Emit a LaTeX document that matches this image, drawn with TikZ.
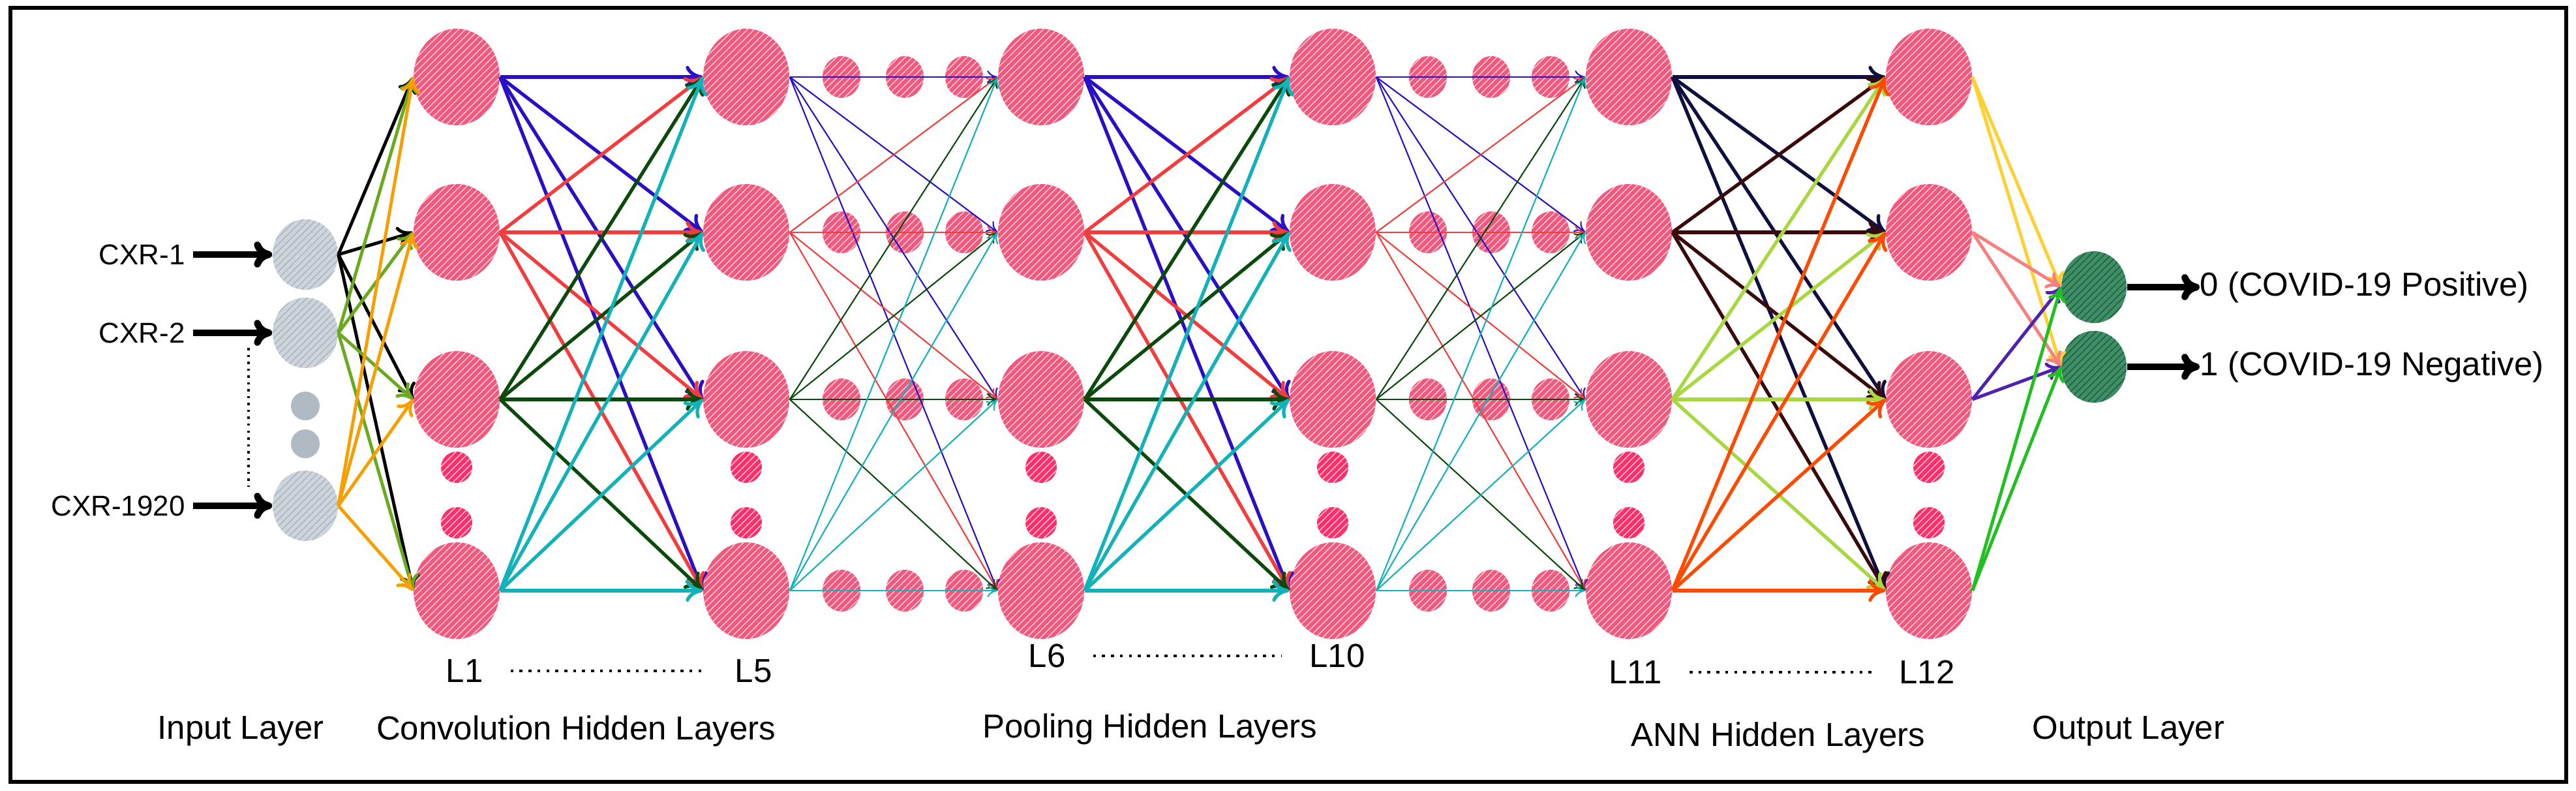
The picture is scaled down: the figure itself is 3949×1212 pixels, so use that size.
\documentclass[tikz,border=0pt]{standalone}
\usepackage{fontspec}
\setmainfont{Liberation Sans}
\usetikzlibrary{shapes.geometric,arrows.meta,patterns}
\definecolor{pk}{HTML}{F0587E}
\definecolor{pkl}{HTML}{FDD0DC}
\definecolor{pkd}{HTML}{FF2E6A}
\definecolor{gry}{HTML}{CDD4DB}
\definecolor{gryl}{HTML}{A9B3BD}
\definecolor{grn}{HTML}{3E8E66}
\definecolor{grnl}{HTML}{1F5C3E}
\definecolor{cb}{HTML}{2A0FC8}
\definecolor{cr}{HTML}{F53C3C}
\definecolor{cg}{HTML}{0A4A0A}
\definecolor{ct}{HTML}{12B2BA}
\definecolor{ik}{HTML}{000000}
\definecolor{ig}{HTML}{6AAA1E}
\definecolor{io}{HTML}{F5A000}
\definecolor{an}{HTML}{101040}
\definecolor{ab}{HTML}{3A0A0A}
\definecolor{ag}{HTML}{A8D840}
\definecolor{ao}{HTML}{FF4A00}
\definecolor{oy}{HTML}{FFD030}
\definecolor{os}{HTML}{F58080}
\definecolor{op}{HTML}{5020B0}
\definecolor{og}{HTML}{20C020}
\begin{document}
\begin{tikzpicture}[x=0.1mm,y=-0.1mm,
  big/.style={ellipse,inner sep=0,minimum width=13.2mm,minimum height=14.8mm,fill=pk,postaction={pattern=north east lines,pattern color=pkl}},
  sm/.style={circle,inner sep=0,minimum size=4.8mm,fill=pkd,postaction={pattern=north east lines,pattern color=pkl}},
  pd/.style={ellipse,inner sep=0,minimum width=5.8mm,minimum height=6.4mm,fill=pk,postaction={pattern=north east lines,pattern color=pkl}},
  inp/.style={ellipse,inner sep=0,minimum width=10mm,minimum height=10.8mm,fill=gry,postaction={pattern=north east lines,pattern color=gryl}},
  ind/.style={circle,inner sep=0,minimum size=4.4mm,fill=gryl!80!gry},
  outn/.style={ellipse,inner sep=0,minimum width=10mm,minimum height=11mm,fill=grn,postaction={pattern=north east lines,pattern color=grnl}},
  thk/.style={line width=1.5pt,-{To[length=2.6mm,width=3.4mm]}},
  thn/.style={line width=0.6pt,-{To[length=1.6mm,width=2mm]}},
  blk/.style={line width=3pt,-{To[length=2.8mm,width=4mm]}},
  txt/.style={font=\fontsize{12.5}{14}\selectfont},
  lab/.style={font=\fontsize{14.5}{17}\selectfont},
  leader/.style={line width=1.3pt,dash pattern=on 1.3pt off 2.6pt,shorten <=3mm,shorten >=3mm}]
\useasboundingbox (0,0) rectangle (3949,1212);
\draw[line width=1.6pt] (16,12) rectangle (3934,1198);

% big columns
\foreach \n/\x in {a/700,b/1144,c/1596,d/2043,e/2497,f/2957}{
  \foreach \i/\y in {1/118,2/356,3/612,4/905}{\node[big] (\n\i) at (\x,\y) {};}
  \node[sm] (\n d1) at (\x,716) {};
  \node[sm] (\n d2) at (\x,801) {};
}
% pooling dots
\foreach \i/\y in {1/118,2/356,3/612,4/905}{
  \foreach \k/\x in {1/1290,2/1387,3/1478}{\node[pd] (p\i\k) at (\x,\y) {};}
  \foreach \k/\x in {1/2189,2/2286,3/2377}{\node[pd] (q\i\k) at (\x,\y) {};}
}
% input
\node[inp] (in1) at (468,390) {};
\node[inp] (in2) at (468,510) {};
\node[inp] (in3) at (468,775) {};
\node[ind] (id1) at (468,622) {};
\node[ind] (id2) at (468,680) {};
\node[txt,anchor=east] (t1) at (296,390) {CXR-1};
\node[txt,anchor=east] (t2) at (296,510) {CXR-2};
\node[txt,anchor=east] (t3) at (296,775) {CXR-1920};
\foreach \i in {1,2,3}{\draw[blk] (t\i.east) -- (in\i.west);}
\coordinate (dv1) at (381,533);
\coordinate (dv2) at (381,746);
\draw[line width=1pt,dash pattern=on 1pt off 2pt] (dv1) -- (dv2);

% input -> L1
\foreach \s/\c in {1/ik,2/ig,3/io}{
  \foreach \t in {1,...,4}{\draw[line width=1.4pt,-{To[length=2.4mm,width=3mm]},draw=\c] (in\s.east) -- (a\t.west);}}
% L1 -> L5 and L6 -> L10 thick
\foreach \s/\c in {1/cb,2/cr,3/cg,4/ct}{
  \foreach \t in {1,...,4}{
    \draw[thk,draw=\c] (a\s.east) -- (b\t.west);
    \draw[thk,draw=\c] (c\s.east) -- (d\t.west);
    \draw[thn,draw=\c] (b\s.east) -- (c\t.west);
    \draw[thn,draw=\c] (d\s.east) -- (e\t.west);
  }}
% L11 -> L12
\foreach \s/\c in {1/an,2/ab,3/ag,4/ao}{
  \foreach \t in {1,...,4}{\draw[thk,draw=\c] (e\s.east) -- (f\t.west);}}
% output
\node[outn] (o1) at (3210,440) {};
\node[outn] (o2) at (3210,562) {};
\foreach \s/\c in {1/oy,2/os,3/op,4/og}{
  \foreach \t in {1,2}{\draw[line width=1.4pt,-{To[length=2.2mm,width=2.8mm]},draw=\c] (f\s.east) -- (o\t.west);}}
\node[lab,anchor=west,inner sep=0] (r1) at (3372,440) {0 (COVID-19 Positive)};
\node[lab,anchor=west,inner sep=0] (r2) at (3372,562) {1 (COVID-19 Negative)};
\draw[blk] (o1.east) -- (r1.west);
\draw[blk] (o2.east) -- (r2.west);

% layer labels
\node[lab] (L1) at (712,1028) {L1};
\node[lab] (L5) at (1155,1028) {L5};
\node[lab] (L6) at (1605,1005) {L6};
\node[lab] (L10) at (2050,1005) {L10};
\node[lab] (L11) at (2507,1030) {L11};
\node[lab] (L12) at (2954,1030) {L12};
\draw[leader] (L1.east) -- (L5.west);
\draw[leader] (L6.east) -- (L10.west);
\draw[leader] (L11.east) -- (L12.west);
\node[lab] (n1) at (369,1120) {Input Layer};
\node[lab] (n2) at (883,1120) {Convolution Hidden Layers};
\node[lab] (n3) at (1763,1117) {Pooling Hidden Layers};
\node[lab] (n4) at (2726,1130) {ANN Hidden Layers};
\node[lab] (n5) at (3263,1120) {Output Layer};
\end{tikzpicture}
\end{document}
